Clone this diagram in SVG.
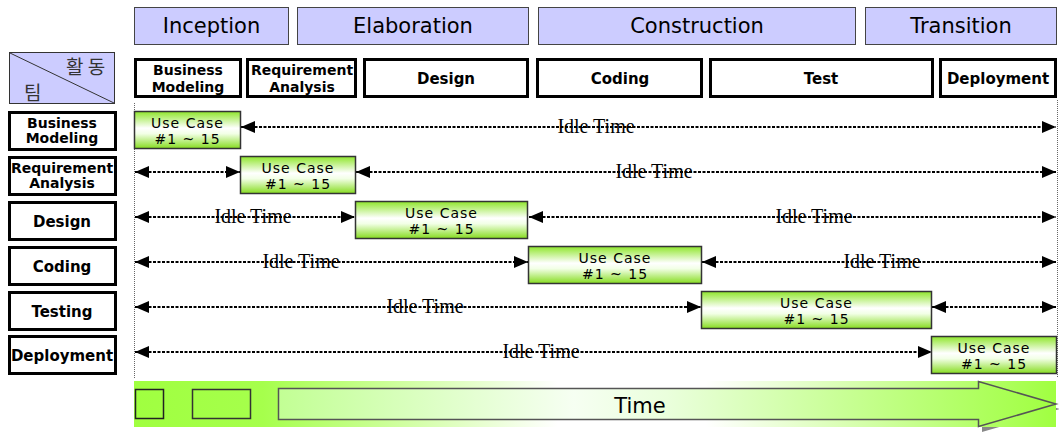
<svg xmlns="http://www.w3.org/2000/svg" width="1059" height="432" viewBox="0 0 1059 432">
  <style>
    .phase rect { fill: #ccccff; stroke: #444; stroke-width: 1; }
    .phase text { font-family: "DejaVu Sans", sans-serif; font-size: 21px; fill: #000; text-anchor: middle; }
    .act rect { fill: #fff; stroke: #000; stroke-width: 3; }
    .act text { font-family: "DejaVu Sans", sans-serif; font-weight: bold; font-size: 15px; fill: #000; text-anchor: middle; }
    .act text.two { font-size: 14px; }
    .uc rect { fill: url(#ucGrad); stroke: #333; stroke-width: 1.5; }
    .uc text { font-family: "DejaVu Sans", sans-serif; font-size: 14px; letter-spacing: 1px; fill: #000; text-anchor: middle; }
    .idle line { stroke: #000; stroke-width: 2; stroke-dasharray: 3 1.5; marker-start: url(#ah); marker-end: url(#ah); }
    .idle text { font-family: "Liberation Serif", serif; font-size: 20px; fill: #000; text-anchor: middle; }
    .guide { stroke: #666; stroke-width: 1; stroke-dasharray: 1 1; }
    .kr { font-family: "Noto Sans CJK KR", sans-serif; font-size: 19px; fill: #333; }
  </style>
  <defs>
    <marker id="ah" viewBox="0 0 14 12" refX="14" refY="6" markerWidth="14" markerHeight="12" markerUnits="userSpaceOnUse" orient="auto-start-reverse">
      <path d="M0,0 L14,6 L0,12 z" fill="#000"/>
    </marker>
    <linearGradient id="ucGrad" x1="0" y1="0" x2="0" y2="1">
      <stop offset="0" stop-color="#8fe62c"/>
      <stop offset="0.45" stop-color="#ffffff"/>
      <stop offset="0.6" stop-color="#f2ffe6"/>
      <stop offset="1" stop-color="#86dc20"/>
    </linearGradient>
    <linearGradient id="bandGrad" gradientUnits="userSpaceOnUse" x1="134" y1="0" x2="1056" y2="0">
      <stop offset="0" stop-color="#a0ff40"/>
      <stop offset="0.14" stop-color="#a6ff4c"/>
      <stop offset="0.46" stop-color="#ffffff"/>
      <stop offset="0.62" stop-color="#ffffff"/>
      <stop offset="1" stop-color="#a0ff40"/>
    </linearGradient>
    <linearGradient id="arrowGrad" gradientUnits="userSpaceOnUse" x1="278" y1="0" x2="1056" y2="0">
      <stop offset="0" stop-color="#c2ff94"/>
      <stop offset="0.38" stop-color="#f6fff2"/>
      <stop offset="0.5" stop-color="#eaffdc"/>
      <stop offset="1" stop-color="#a0ff40"/>
    </linearGradient>
  </defs>

  <!-- phases -->
  <g id="phase-inception" class="phase"><rect x="134.5" y="7.5" width="154" height="37"/><text x="211.5" y="33">Inception</text></g>
  <g id="phase-elaboration" class="phase"><rect x="297.5" y="7.5" width="231" height="37"/><text x="413" y="33">Elaboration</text></g>
  <g id="phase-construction" class="phase"><rect x="538.5" y="7.5" width="317" height="37"/><text x="697" y="33">Construction</text></g>
  <g id="phase-transition" class="phase"><rect x="865.5" y="7.5" width="191" height="37"/><text x="961" y="33">Transition</text></g>

  <!-- team / activity corner -->
  <g id="corner">
    <rect x="9.5" y="52.5" width="105" height="51" fill="#ccccff" stroke="#333" stroke-width="1"/>
    <line x1="10" y1="53" x2="114" y2="103" stroke="#333" stroke-width="1"/>
    <text class="kr" x="66" y="74">활 동</text>
    <text class="kr" x="24" y="100">팀</text>
  </g>

  <!-- activities -->
  <g id="act-business" class="act"><rect x="135.5" y="59.5" width="105" height="37"/><text class="two" x="188" y="75">Business</text><text class="two" x="188" y="92">Modeling</text></g>
  <g id="act-requirement" class="act"><rect x="247.5" y="59.5" width="108" height="37"/><text class="two" x="302" y="75">Requirement</text><text class="two" x="302" y="92">Analysis</text></g>
  <g id="act-design" class="act"><rect x="364.5" y="59.5" width="163" height="37"/><text x="446" y="84">Design</text></g>
  <g id="act-coding" class="act"><rect x="537.5" y="59.5" width="164" height="37"/><text x="620" y="84">Coding</text></g>
  <g id="act-test" class="act"><rect x="710.5" y="59.5" width="222" height="37"/><text x="821" y="84">Test</text></g>
  <g id="act-deployment" class="act"><rect x="940.5" y="59.5" width="115" height="37"/><text x="998" y="84">Deployment</text></g>

  <!-- teams -->
  <g id="team-business" class="act"><rect x="9.5" y="112.5" width="106" height="37"/><text class="two" x="62" y="128">Business</text><text class="two" x="62" y="143">Modeling</text></g>
  <g id="team-requirement" class="act"><rect x="9.5" y="157.5" width="106" height="37"/><text class="two" x="62" y="173">Requirement</text><text class="two" x="62" y="188">Analysis</text></g>
  <g id="team-design" class="act"><rect x="9.5" y="202.5" width="106" height="37"/><text x="62" y="227">Design</text></g>
  <g id="team-coding" class="act"><rect x="9.5" y="247.5" width="106" height="37"/><text x="62" y="272">Coding</text></g>
  <g id="team-testing" class="act"><rect x="9.5" y="292.5" width="106" height="37"/><text x="62" y="317">Testing</text></g>
  <g id="team-deployment" class="act"><rect x="9.5" y="336.5" width="106" height="37"/><text x="62" y="361">Deployment</text></g>

  <!-- timeline guides -->
  <line class="guide" x1="134.5" y1="103" x2="134.5" y2="378"/>
  <line class="guide" x1="1057.5" y1="100" x2="1057.5" y2="378"/>

  <!-- idle-time connectors -->
  <g id="connectors" class="idle">
    <line x1="241" y1="127" x2="1056" y2="127"/><text x="596" y="133">Idle Time</text>
    <line x1="135" y1="172" x2="240" y2="172"/>
    <line x1="356" y1="172" x2="1056" y2="172"/><text x="654" y="178">Idle Time</text>
    <line x1="135" y1="217" x2="355" y2="217"/><text x="253" y="223">Idle Time</text>
    <line x1="529" y1="217" x2="1056" y2="217"/><text x="814" y="223">Idle Time</text>
    <line x1="135" y1="262" x2="528" y2="262"/><text x="301" y="268">Idle Time</text>
    <line x1="702" y1="262" x2="1056" y2="262"/><text x="882" y="268">Idle Time</text>
    <line x1="135" y1="307" x2="701" y2="307"/><text x="425" y="313">Idle Time</text>
    <line x1="932" y1="307" x2="1056" y2="307"/>
    <line x1="135" y1="352" x2="932" y2="352"/><text x="541" y="358">Idle Time</text>
  </g>

  <!-- use case bars -->
  <g id="uc-1" class="uc"><rect x="134.5" y="111.5" width="106" height="37"/><text x="187.5" y="127.5">Use Case</text><text x="187.5" y="144">#1 ~ 15</text></g>
  <g id="uc-2" class="uc"><rect x="240.5" y="156.5" width="115" height="37"/><text x="298" y="172.5">Use Case</text><text x="298" y="189">#1 ~ 15</text></g>
  <g id="uc-3" class="uc"><rect x="355.5" y="201.5" width="172" height="37"/><text x="441.5" y="217.5">Use Case</text><text x="441.5" y="234">#1 ~ 15</text></g>
  <g id="uc-4" class="uc"><rect x="528.5" y="246.5" width="173" height="37"/><text x="615" y="262.5">Use Case</text><text x="615" y="279">#1 ~ 15</text></g>
  <g id="uc-5" class="uc"><rect x="701.5" y="291.5" width="230" height="37"/><text x="816.5" y="307.5">Use Case</text><text x="816.5" y="324">#1 ~ 15</text></g>
  <g id="uc-6" class="uc"><rect x="931.5" y="336.5" width="125" height="37"/><text x="994" y="352.5">Use Case</text><text x="994" y="369">#1 ~ 15</text></g>

  <!-- time bar -->
  <g id="timebar">
    <polygon points="282,393 982,393 982,386 1060,409 982,432 982,424 282,424" fill="#888"/>
    <rect x="134" y="381" width="922" height="46" fill="url(#bandGrad)"/>
    <rect x="135.5" y="389.5" width="28" height="29" fill="none" stroke="#222" stroke-width="1.5"/>
    <rect x="192.5" y="389.5" width="58" height="29" fill="none" stroke="#333" stroke-width="1.5"/>
    <polygon points="278.5,388.5 978.5,388.5 978.5,381.5 1056,404 978.5,426.5 978.5,419.5 278.5,419.5" fill="url(#arrowGrad)" stroke="#555" stroke-width="1.5"/>
    <text x="640" y="413" font-family="DejaVu Sans, sans-serif" font-size="21" text-anchor="middle" fill="#000">Time</text>
  </g>
</svg>
